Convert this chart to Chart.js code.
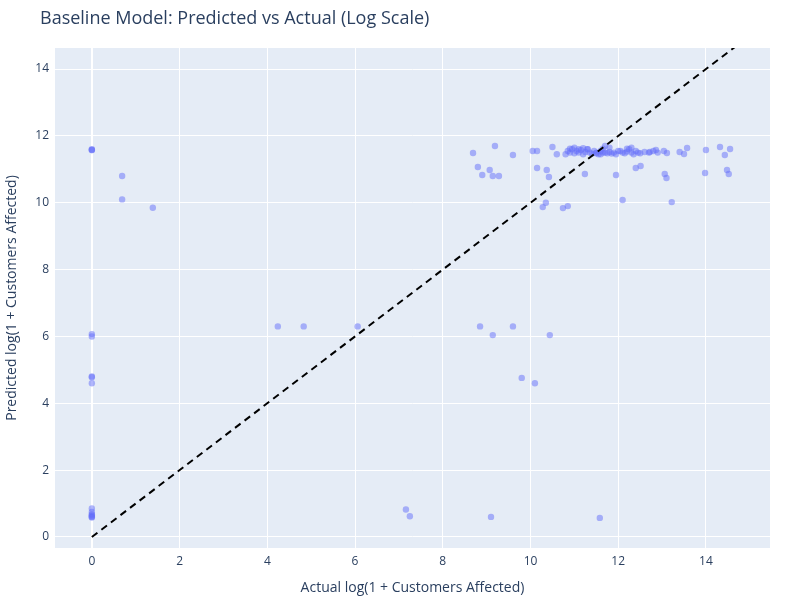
<!DOCTYPE html>
<html><head><script src="https://cdn.jsdelivr.net/npm/chart.js"></script>
<style>body{margin:0;background:#fff}#w{width:800px;height:600px}</style></head>
<body><div id="w"><canvas id="c"></canvas></div>
<script>
const actualX = [0,0,0,0,0,0,0,0,0,0,0,0,0,0,0,0.69,0.69,1.39,4.24,4.83,6.06,
 8.69,8.8,8.9,9.07,9.14,9.28,9.19,9.6,10.05,10.15,10.15,10.37,10.42,10.28,10.35,10.5,10.6,10.74,10.85,11.24,11.95,12.1,12.0,12.4,12.51,13.06,13.1,13.22,14.0,13.98,14.32,14.43,14.48,14.52,14.55,13.57,13.4,13.5,13.04,13.11,12.86,12.72,
 8.85,9.14,9.6,10.44,9.8,10.1,7.16,7.25,9.1,11.58,
 10.8,10.85,10.9,10.95,11.0,11.05,11.1,11.15,11.2,11.25,11.3,11.35,11.4,11.45,11.5,11.55,11.6,11.65,11.7,11.75,11.8,11.85,11.9,11.95,12.05,12.1,12.15,12.2,12.25,12.3,12.35,12.4,12.45,12.5,12.6,12.7,12.8,12.9,10.9,11.0,11.1,11.2,11.3,11.7,11.8,12.2,12.3,11.6,11.65,11.5];
const predictedY = [11.58,11.58,11.6,6.07,6.0,4.8,4.78,4.6,0.85,0.75,0.68,0.65,0.62,0.6,0.58,10.8,10.1,9.85,6.3,6.3,6.3,
 11.49,11.07,10.83,10.98,10.8,10.8,11.7,11.43,11.55,11.55,11.04,10.98,10.77,9.87,10.0,11.67,11.45,9.84,9.9,10.86,10.83,10.08,11.55,11.04,11.1,10.86,10.74,10.02,11.58,10.89,11.67,11.43,10.98,10.86,11.61,11.64,11.52,11.46,11.55,11.49,11.58,11.52,
 6.3,6.04,6.3,6.04,4.76,4.6,0.82,0.62,0.6,0.57,
 11.45,11.55,11.5,11.6,11.48,11.55,11.5,11.58,11.45,11.52,11.6,11.5,11.47,11.55,11.5,11.45,11.55,11.62,11.5,11.48,11.52,11.47,11.5,11.45,11.55,11.5,11.48,11.53,11.6,11.5,11.45,11.55,11.5,11.48,11.52,11.5,11.55,11.5,11.62,11.65,11.6,11.63,11.6,11.7,11.65,11.62,11.65,11.45,11.5,11.48];
const xTicks=[0,2,4,6,8,10,12,14], yTicks=[0,2,4,6,8,10,12,14];
const pts = actualX.map((x,i)=>({x, y:predictedY[i]}));
const bg={id:'bg',beforeDraw(ch){const a=ch.chartArea,c=ch.ctx;c.save();c.fillStyle='#E5ECF6';c.fillRect(a.left,a.top,a.right-a.left,a.bottom-a.top);c.restore();},
 afterDraw(ch){const c=ch.ctx;c.save();c.font='18px "Open Sans"';c.fillStyle='#2a3f5f';c.textBaseline='middle';c.fillText('Baseline Model: Predicted vs Actual (Log Scale)',40,19);c.restore();}};
const font={family:'"Open Sans"',size:12};
new Chart(document.getElementById('c'),{
 data:{datasets:[
  {type:'scatter',data:pts,backgroundColor:'rgba(99,110,250,0.5)',borderWidth:0,pointRadius:3.2,pointHoverRadius:3.2,order:2},
  {type:'line',data:[{x:0,y:0},{x:16,y:16}],borderColor:'#000',borderWidth:2,borderDash:[7,5],pointRadius:0,order:1}
 ]},
 options:{responsive:true,maintainAspectRatio:false,animation:false,
  layout:{padding:{top:48,right:30,left:0,bottom:0}},
  plugins:{legend:{display:false},tooltip:{enabled:false}},
  scales:{
   x:{type:'linear',min:-0.84,max:15.46,afterBuildTicks(s){s.ticks=xTicks.map(v=>({value:v}));},
    afterFit(s){s.height=52;},border:{display:false},
    grid:{color:c=>c.tick&&c.tick.value===0?'#fff':'#fff',lineWidth:c=>c.tick&&c.tick.value===0?2:1,drawTicks:false},
    ticks:{color:'#2a3f5f',font,padding:6},
    title:{display:true,text:'Actual log(1 + Customers Affected)',color:'#2a3f5f',font:{family:'"Open Sans"',size:14},padding:{top:8}}},
   y:{type:'linear',min:-0.33,max:14.63,afterBuildTicks(s){s.ticks=yTicks.map(v=>({value:v}));},
    afterFit(s){s.width=55;},border:{display:false},
    grid:{color:'#fff',drawTicks:false},
    ticks:{color:'#2a3f5f',font,padding:6},
    title:{display:true,text:'Predicted log(1 + Customers Affected)',color:'#2a3f5f',font:{family:'"Open Sans"',size:14},padding:{bottom:4}}}
  }},
 plugins:[bg]});
</script></body></html>
